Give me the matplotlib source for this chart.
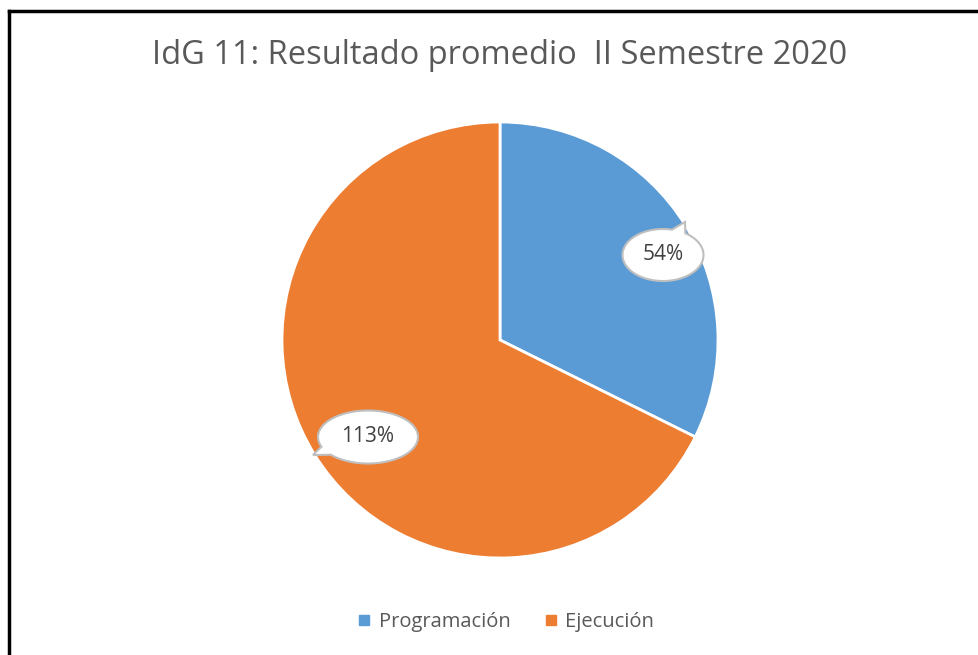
import numpy as np
import matplotlib.pyplot as plt
from matplotlib.patches import Polygon
from matplotlib.lines import Line2D

categories = ["Programación", "Ejecución"]
values = [54, 113]
value_labels = ["54%", "113%"]
colors = ["#5B9BD5", "#ED7D31"]
title = "IdG 11: Resultado promedio  II Semestre 2020"

W, H = 979, 655
plt.rcParams["font.family"] = ["Open Sans", "DejaVu Sans"]

fig = plt.figure(figsize=(W / 100, H / 100), dpi=100)
ax = fig.add_axes([0, 0, 1, 1])

# pixel-like coordinates, y up
center = (500, H - 340)
radius = 218
wedges, _ = ax.pie(values, colors=colors, startangle=90, counterclock=False,
                   center=center, radius=radius,
                   wedgeprops=dict(edgecolor="white", linewidth=2))
ax.set_xlim(0, W)
ax.set_ylim(0, H)
ax.set_aspect("equal")
ax.axis("off")


def callout(cx, cy, w, h, tip, text):
    # ellipse outline with a small pointer towards the tip
    tx, ty = tip
    ang = np.arctan2((ty - cy) / (h / 2), (tx - cx) / (w / 2))
    gap = 0.18
    t = ang + np.linspace(gap, 2 * np.pi - gap, 300)
    pts = [(cx + w / 2 * np.cos(a), cy + h / 2 * np.sin(a)) for a in t]
    pts.append(tip)
    poly = Polygon(pts, closed=True, facecolor="white", edgecolor="#BFBFBF",
                   linewidth=1.5, zorder=5)
    ax.add_patch(poly)
    ax.text(cx, cy, text, ha="center", va="center", fontsize=15,
            color="#404040", zorder=6)


callout(663, H - 255, 81, 52, (685, H - 222), value_labels[0])
callout(368, H - 437, 100, 53, (313, H - 455), value_labels[1])

fig.text(500 / W, 1 - 55 / H, title, ha="center", va="center",
         fontsize=23.5, color="#595959")

handles = [Line2D([], [], marker="s", linestyle="none", markersize=7.5,
                  markerfacecolor=c, markeredgecolor=c) for c in colors]
fig.legend(handles, categories, loc="center", ncol=2,
           bbox_to_anchor=(505 / W, 1 - 622 / H), frameon=False,
           fontsize=14.5, labelcolor="#595959", handletextpad=0.3,
           columnspacing=1.6, handlelength=0.8)

# frame lines (left and top only visible)
fig.add_artist(Line2D([9 / W, 9 / W], [0, 1 - 11 / H], color="black", lw=2.5))
fig.add_artist(Line2D([9 / W, 1], [1 - 11 / H, 1 - 11 / H], color="black", lw=2.5))

fig.savefig("out.png", dpi=100)
